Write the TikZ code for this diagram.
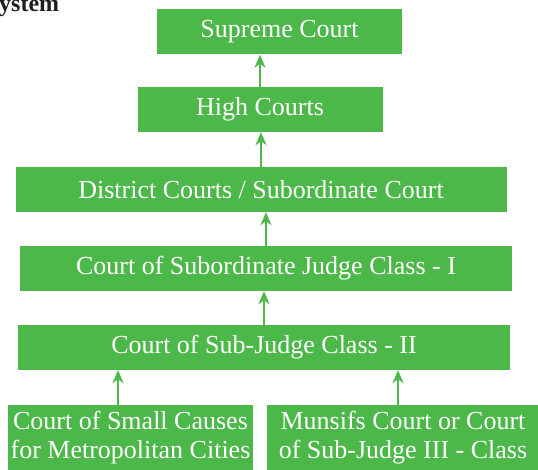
\documentclass[tikz,border=0pt]{standalone}
\usepackage{fontspec}
\setmainfont{Liberation Serif}
\usetikzlibrary{arrows.meta}
\definecolor{courtgreen}{RGB}{77,184,74}
\tikzset{
	court/.style={fill=courtgreen, text=white, inner sep=0pt, minimum height=45pt, font=\fontsize{26}{29}\selectfont, align=center},
	up/.style={draw=courtgreen, line width=1.5pt, -{Stealth[length=13pt,width=11pt,inset=4pt,courtgreen]}}
}

\begin{document}
\begin{tikzpicture}[x=1pt,y=1pt]
		%%%%% START %%%%%
		\useasboundingbox (0,0) rectangle (538,469);
		
		\node[anchor=base west, inner sep=0pt, text=black!88, font=\fontsize{24}{27}\selectfont\bfseries] (title) at (-1,457) {ystem};
		
		\node[court, minimum width=245pt] (supreme) at (279.5,437) {Supreme Court};
		\node[court, minimum width=245pt] (high) at (260,359.5) {High Courts};
		\node[court, minimum width=491pt] (district) at (261,279.5) {District Courts / Subordinate Court};
		\node[court, minimum width=492pt] (subI) at (266,200.5) {Court of Subordinate Judge Class - I};
		\node[court, minimum width=492pt] (subII) at (264,121.5) {Court of Sub-Judge Class - II};
		
		\node[court, minimum width=245pt, minimum height=66pt] (small) at (130.5,31) {Court of Small Causes\\for Metropolitan Cities};
		\node[court, minimum width=272pt, minimum height=66pt] (munsif) at (403,31) {Munsifs Court or Court\\of Sub-Judge III - Class};
		
		\draw[up] (high.north) -- (high.north |- supreme.south);
		\draw[up] (district.north) -- (district.north |- high.south);
		\draw[up] (subI.north) -- (subI.north |- district.south);
		\draw[up] (subII.north) -- (subII.north |- subI.south);
		
		\draw[up] ([xshift=-12.5pt]small.north) -- ([xshift=-12.5pt]small.north |- subII.south);
		\draw[up] ([xshift=-5pt]munsif.north) -- ([xshift=-5pt]munsif.north |- subII.south);
		
		%%%%% END %%%%%
\end{tikzpicture}
\end{document}
